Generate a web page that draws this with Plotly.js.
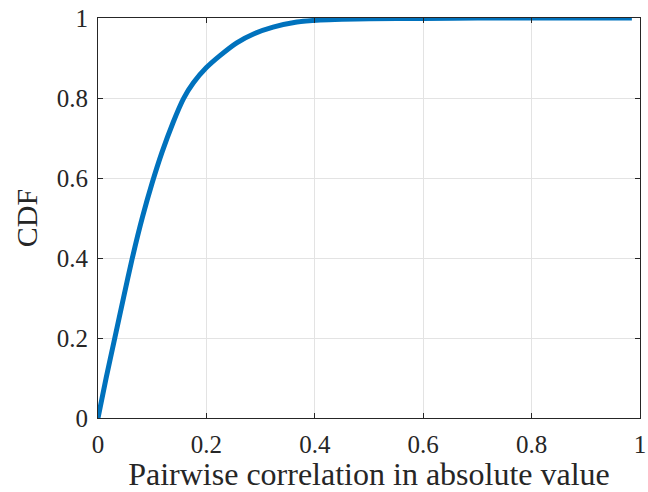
<!DOCTYPE html>
<html>
<head>
<meta charset="utf-8">
<script src="https://cdn.plot.ly/plotly-3.0.1.min.js"></script>
<style>html,body{margin:0;padding:0;background:#fff;}#chart{width:648px;height:492px;}</style>
</head>
<body>
<div id="chart"></div>
<script>
const corrAbs = [0, 0.015, 0.031, 0.047, 0.063, 0.082, 0.1, 0.118, 0.138, 0.158, 0.176, 0.2, 0.225, 0.256, 0.287, 0.323, 0.367, 0.41, 0.45, 0.5, 0.6, 0.7, 0.985];
const cdfVals = [0, 0.1, 0.2, 0.3, 0.398, 0.502, 0.588, 0.664, 0.737, 0.799, 0.838, 0.876, 0.906, 0.938, 0.96, 0.977, 0.99, 0.995, 0.997, 0.998, 0.999, 1, 1];
const tickVals = [0, 0.2, 0.4, 0.6, 0.8, 1];
const tickText = ["0", "0.2", "0.4", "0.6", "0.8", "1"];
const xLabel = "Pairwise correlation in absolute value";
const yLabel = "CDF";

const fontFam = "Liberation Serif";
const axisCommon = {
  range: [0, 1],
  tickvals: tickVals,
  ticktext: tickText,
  ticks: "inside",
  ticklen: 5,
  tickwidth: 1,
  tickcolor: "#262626",
  showline: true,
  mirror: "ticks",
  linecolor: "#262626",
  linewidth: 1,
  showgrid: true,
  gridcolor: "#e3e3e3",
  gridwidth: 1,
  zeroline: false,
  tickfont: {family: fontFam, size: 25, color: "#262626"},
  fixedrange: true
};

const trace = {
  x: corrAbs,
  y: cdfVals,
  type: "scatter",
  mode: "lines",
  line: {color: "#0072BD", width: 5, shape: "spline", smoothing: 0.7},
  hoverinfo: "skip"
};

const layout = {
  width: 648,
  height: 492,
  margin: {l: 98, r: 8, t: 18, b: 74},
  paper_bgcolor: "#ffffff",
  plot_bgcolor: "#ffffff",
  showlegend: false,
  font: {family: fontFam, color: "#262626"},
  xaxis: Object.assign({}, axisCommon, {
    ticklabelstandoff: 4,
    title: {text: xLabel, font: {family: fontFam, size: 32, color: "#262626"}, standoff: 6}
  }),
  yaxis: Object.assign({}, axisCommon, {
    ticklabelstandoff: 4,
    title: {text: yLabel, font: {family: fontFam, size: 30, color: "#262626"}, standoff: 10}
  })
};

Plotly.newPlot("chart", [trace], layout, {staticPlot: true, displayModeBar: false});
</script>
</body>
</html>
